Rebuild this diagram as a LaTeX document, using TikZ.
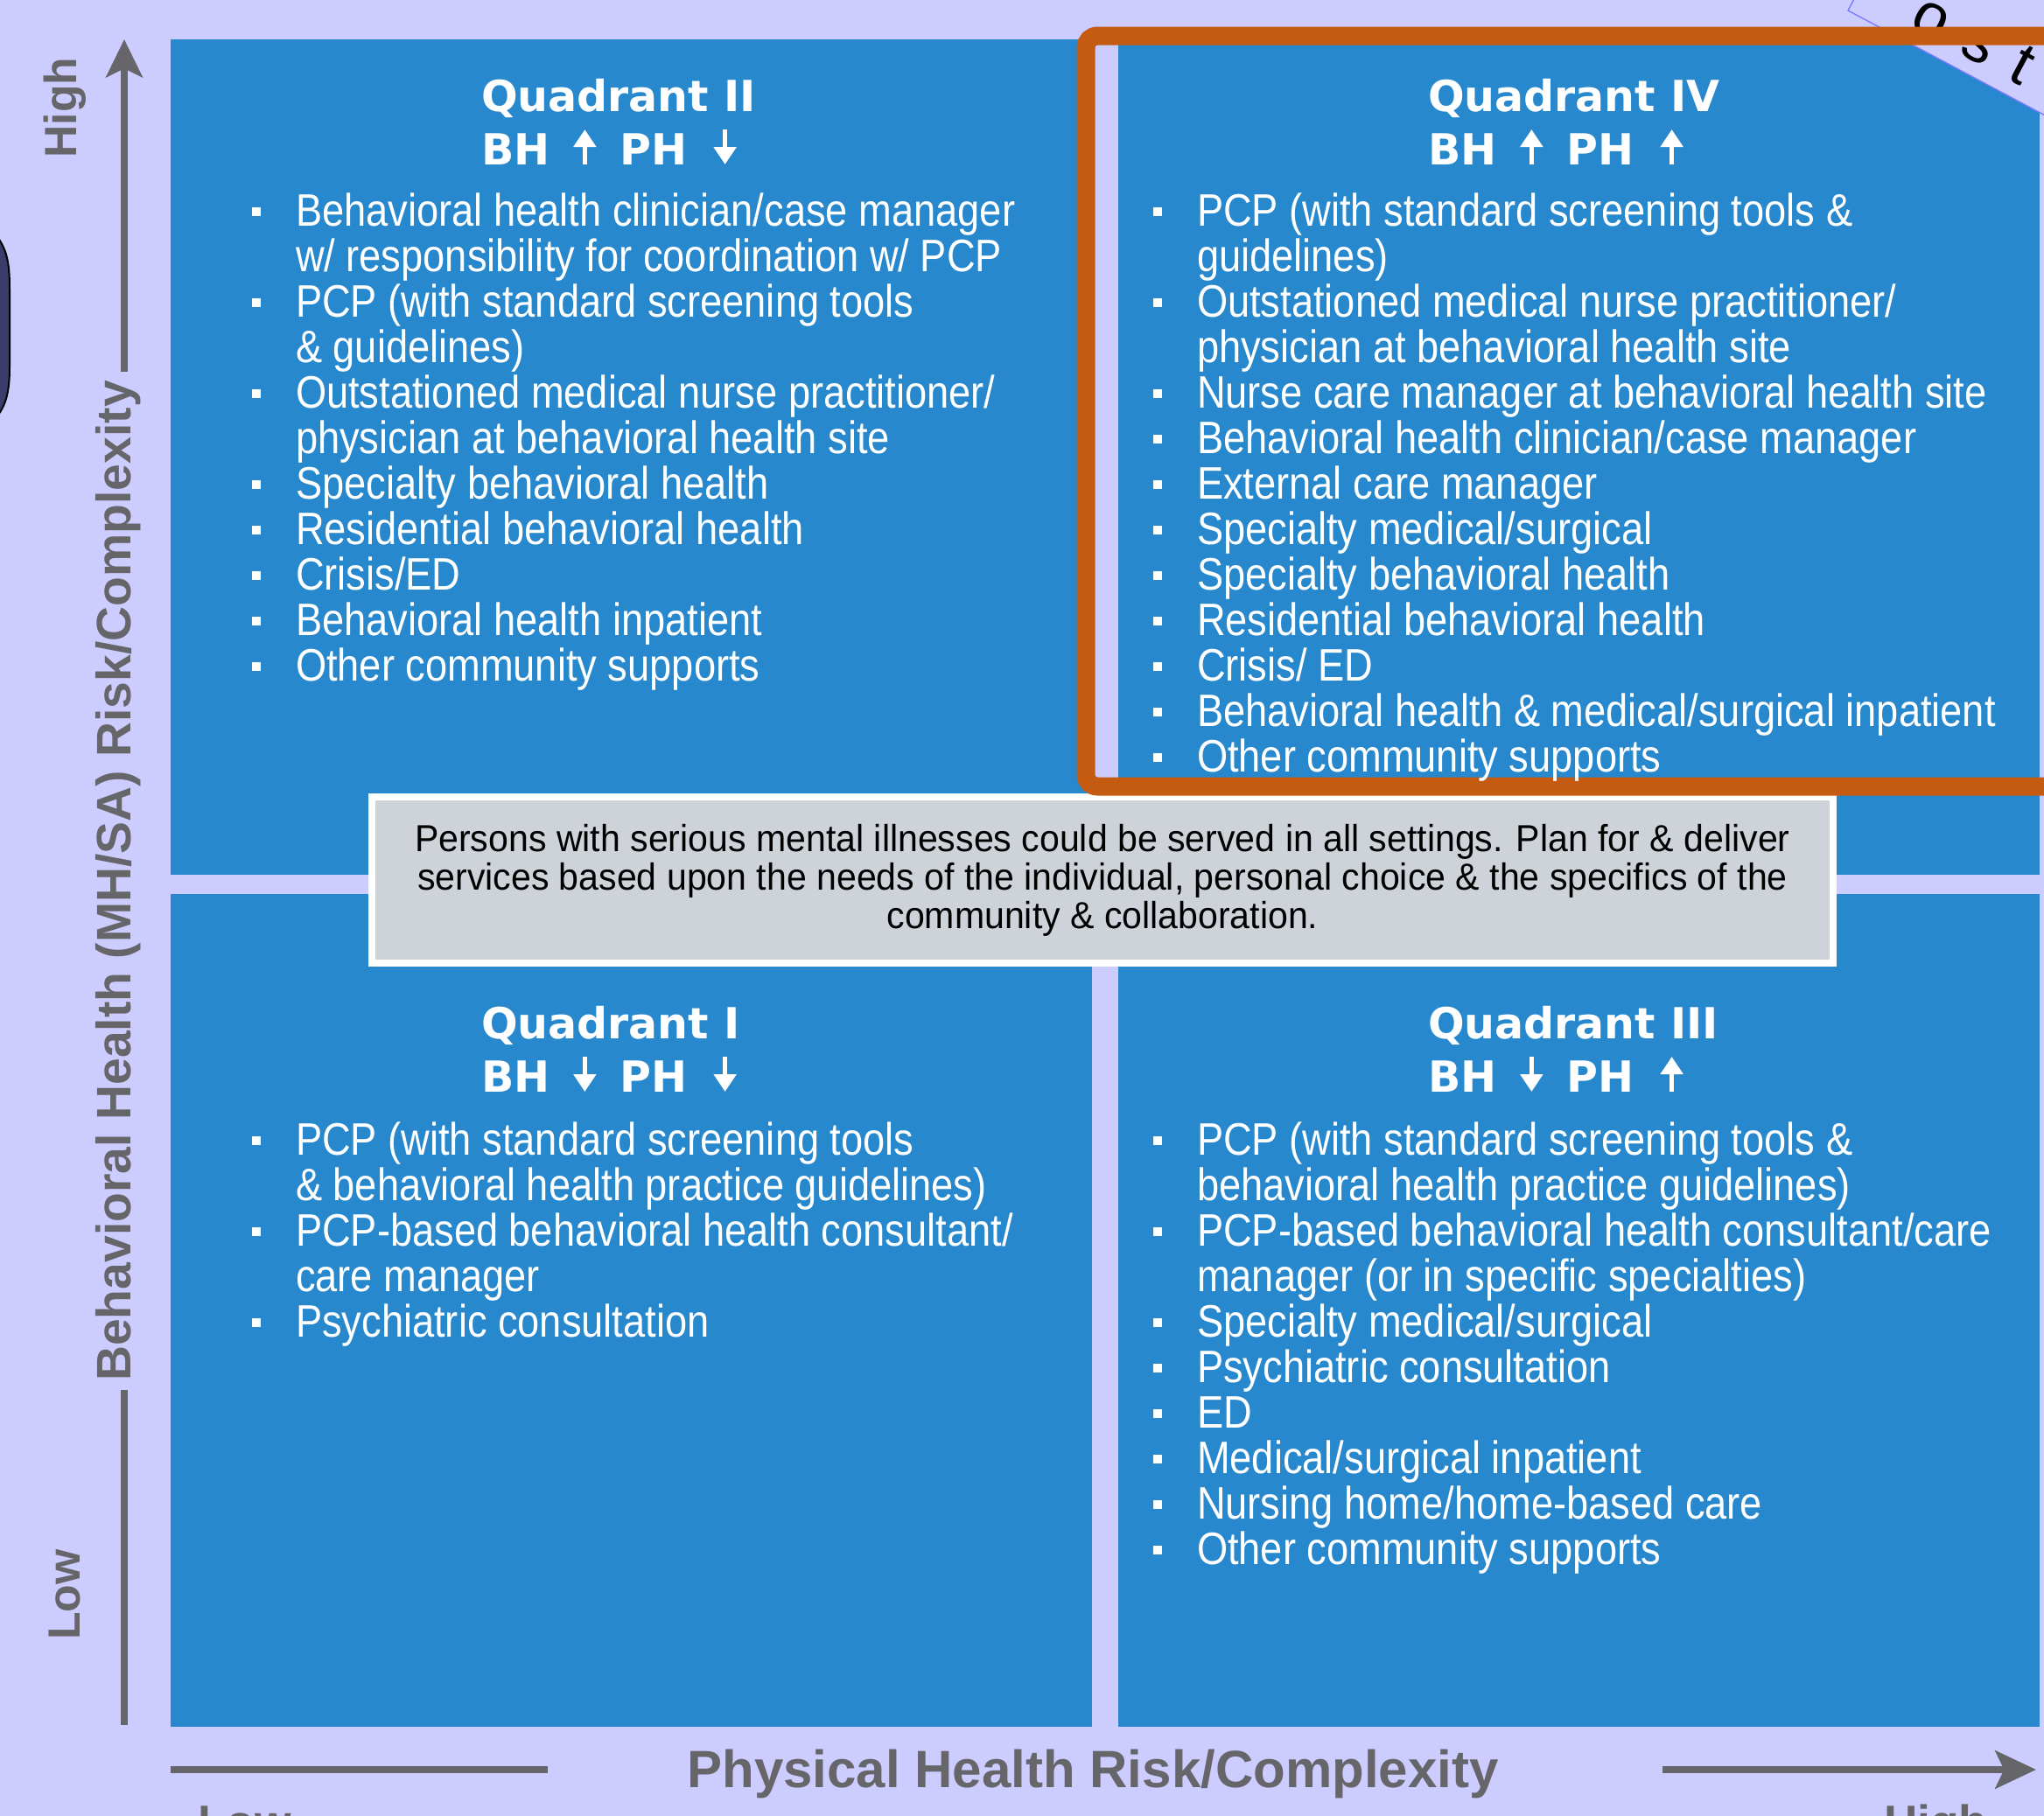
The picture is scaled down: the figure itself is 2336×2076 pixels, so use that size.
\documentclass[tikz,border=0pt]{standalone}
\usepackage{fontspec}
\setmainfont{Liberation Sans}
\newfontfamily\bodyfont{Liberation Sans}[FakeStretch=0.87]
\newfontfamily\notefont{Liberation Sans}[FakeStretch=0.955]
\newfontfamily\headfont{DejaVu Sans}
\newfontfamily\tagfont{Liberation Sans}[LetterSpace=38]
\usetikzlibrary{arrows.meta,positioning}

\definecolor{bglav}{RGB}{204,204,255}
\definecolor{qblue}{RGB}{39,136,206}
\definecolor{frameor}{RGB}{197,90,17}
\definecolor{axisgray}{RGB}{102,102,106}
\definecolor{boxgray}{RGB}{206,211,218}
\definecolor{tagblue}{RGB}{120,120,255}
\definecolor{darkblob}{RGB}{60,60,108}

\newcommand{\itm}{\makebox[15pt][l]{\raisebox{3.3pt}{\rule{3pt}{3pt}}}}
\newcommand{\cnt}{\hspace*{15pt}}

\tikzset{
  quad/.style={fill=qblue},
  bodytxt/.style={font=\bodyfont\fontsize{15.6pt}{15.6pt}\selectfont, text=white, anchor=base west},
  qhead/.style={font=\headfont\bfseries\fontsize{14.7pt}{18pt}\selectfont, text=white, anchor=base west},
  hiarr/.style={draw=white, line width=1.5pt, -{Triangle[width=7.5pt,length=6pt]}},
  axisline/.style={draw=axisgray, line width=2.4pt},
  axislbl/.style={font=\bfseries\fontsize{16pt}{16pt}\selectfont, text=axisgray},
  notebox/.style={draw=white, line width=2.4pt, fill=boxgray, minimum width=501pt, minimum height=57pt,
    align=center, font=\notefont\fontsize{12.9pt}{13.2pt}\selectfont, text=black}
}

\begin{document}
\begin{tikzpicture}[x=0.3pt,y=-0.3pt,every node/.style={inner sep=0pt,outer sep=0pt}]
\path[use as bounding box, fill=bglav] (0,0) rectangle (2336,2076);
\clip (0,0) rectangle (2336,2076);

% the four quadrants
\fill[quad] (195,45) rectangle (1248,1000);
\fill[quad] (1278,45) rectangle (2331,1000);
\fill[quad] (195,1022) rectangle (1248,1974);
\fill[quad] (1278,1022) rectangle (2331,1974);

% tag in the corner and shape on the left edge
\filldraw[fill=bglav, draw=tagblue, line width=0.4pt] (2112,12) -- (2465,200) -- (2559,23) -- (2206,-165) -- cycle;
\node[font=\tagfont\fontsize{21pt}{21pt}\selectfont, rotate=-28, anchor=base west] (tag) at (2180,30) {ost};
\filldraw[fill=darkblob, draw=black, line width=0.6pt] (-5,268) .. controls (8,285) and (11,300) .. (11,330) -- (11,420) .. controls (11,450) and (6,465) .. (-5,478) -- cycle;

% axes
\coordinate (ytop) at (142,45);
\coordinate (ybot) at (142,1972);
\node[axislbl, font=\bfseries\fontsize{16.6pt}{16pt}\selectfont, rotate=90, anchor=base, inner xsep=3pt] (ytitle) at (149,1007) {Behavioral Health (MH/SA) Risk/Complexity};
\draw[axisline, -{Stealth[length=13pt,width=12.5pt,inset=3pt]}] (ytitle.east -| ytop) -- (ytop);
\draw[axisline] (ytitle.west -| ybot) -- (ybot);
\node[axislbl, font=\bfseries\fontsize{15.5pt}{16pt}\selectfont, rotate=90] (yhigh) at (74,123) {High};
\node[axislbl, font=\bfseries\fontsize{15.5pt}{16pt}\selectfont, rotate=90] (ylow) at (74,1823) {Low};

\coordinate (xlow) at (195,2023);
\coordinate (xlowend) at (626,2023);
\coordinate (xhighstart) at (1900,2023);
\coordinate (xhigh) at (2327,2023);
\node[axislbl, font=\bfseries\fontsize{18pt}{18pt}\selectfont, anchor=base] (xtitle) at (1249,2043) {Physical Health Risk/Complexity};
\draw[axisline] (xlow) -- (xlowend);
\draw[axisline, -{Stealth[length=14pt,width=13pt,inset=3pt]}] (xhighstart) -- (xhigh);
\node[axislbl, anchor=base west] (xlowlbl) at (226,2101) {Low};
\node[axislbl, anchor=base west] (xhighlbl) at (2153,2101) {High};

% note in the middle
\node[notebox] (note) at (1260,1006) {Persons with serious mental illnesses could be served in all settings. Plan for \& deliver\\services based upon the needs of the individual, personal choice \& the specifics of the\\community \& collaboration.};

% frame round quadrant IV
\draw[frameor, line width=6.3pt, rounded corners=4pt] (1241,41) rectangle (2420,899);

% Quadrant II
\node[qhead] (q2t) at (550,127) {Quadrant II};
\node[qhead] (q2bh) at (550,188) {BH};
\draw[hiarr] ([xshift=12pt]q2bh.base east) -- ++(0,-40);
\node[qhead] (q2ph) at ([xshift=24pt]q2bh.base east) {PH};
\draw[hiarr] ([xshift=13pt,yshift=12pt]q2ph.base east) -- ++(0,40);
\foreach \txt [count=\n from 0] in {
  {\itm Behavioral health clinician/case manager},
  {\cnt w/ responsibility for coordination w/ PCP},
  {\itm PCP (with standard screening tools},
  {\cnt \& guidelines)},
  {\itm Outstationed medical nurse practitioner/},
  {\cnt physician at behavioral health site},
  {\itm Specialty behavioral health},
  {\itm Residential behavioral health},
  {\itm Crisis/ED},
  {\itm Behavioral health inpatient},
  {\itm Other community supports}}
  \node[bodytxt] (q2-\n) at (288,{258+52*\n}) {\txt};

% Quadrant IV
\node[qhead] (q4t) at (1632,127) {Quadrant IV};
\node[qhead] (q4bh) at (1632,188) {BH};
\draw[hiarr] ([xshift=12pt]q4bh.base east) -- ++(0,-40);
\node[qhead] (q4ph) at ([xshift=24pt]q4bh.base east) {PH};
\draw[hiarr] ([xshift=13pt]q4ph.base east) -- ++(0,-40);
\foreach \txt [count=\n from 0] in {
  {\itm PCP (with standard screening tools \&},
  {\cnt guidelines)},
  {\itm Outstationed medical nurse practitioner/},
  {\cnt physician at behavioral health site},
  {\itm Nurse care manager at behavioral health site},
  {\itm Behavioral health clinician/case manager},
  {\itm External care manager},
  {\itm Specialty medical/surgical},
  {\itm Specialty behavioral health},
  {\itm Residential behavioral health},
  {\itm Crisis/ ED},
  {\itm Behavioral health \& medical/surgical inpatient},
  {\itm Other community supports}}
  \node[bodytxt] (q4-\n) at (1318,{258+52*\n}) {\txt};

% Quadrant I
\node[qhead] (q1t) at (550,1187) {Quadrant I};
\node[qhead] (q1bh) at (550,1248) {BH};
\draw[hiarr] ([xshift=12pt,yshift=12pt]q1bh.base east) -- ++(0,40);
\node[qhead] (q1ph) at ([xshift=24pt]q1bh.base east) {PH};
\draw[hiarr] ([xshift=13pt,yshift=12pt]q1ph.base east) -- ++(0,40);
\foreach \txt [count=\n from 0] in {
  {\itm PCP (with standard screening tools},
  {\cnt \& behavioral health practice guidelines)},
  {\itm PCP-based behavioral health consultant/},
  {\cnt care manager},
  {\itm Psychiatric consultation}}
  \node[bodytxt] (q1-\n) at (288,{1320+52*\n}) {\txt};

% Quadrant III
\node[qhead] (q3t) at (1632,1187) {Quadrant III};
\node[qhead] (q3bh) at (1632,1248) {BH};
\draw[hiarr] ([xshift=12pt,yshift=12pt]q3bh.base east) -- ++(0,40);
\node[qhead] (q3ph) at ([xshift=24pt]q3bh.base east) {PH};
\draw[hiarr] ([xshift=13pt]q3ph.base east) -- ++(0,-40);
\foreach \txt [count=\n from 0] in {
  {\itm PCP (with standard screening tools \&},
  {\cnt behavioral health practice guidelines)},
  {\itm PCP-based behavioral health consultant/care},
  {\cnt manager (or in specific specialties)},
  {\itm Specialty medical/surgical},
  {\itm Psychiatric consultation},
  {\itm ED},
  {\itm Medical/surgical inpatient},
  {\itm Nursing home/home-based care},
  {\itm Other community supports}}
  \node[bodytxt] (q3-\n) at (1318,{1320+52*\n}) {\txt};
\end{tikzpicture}
\end{document}
